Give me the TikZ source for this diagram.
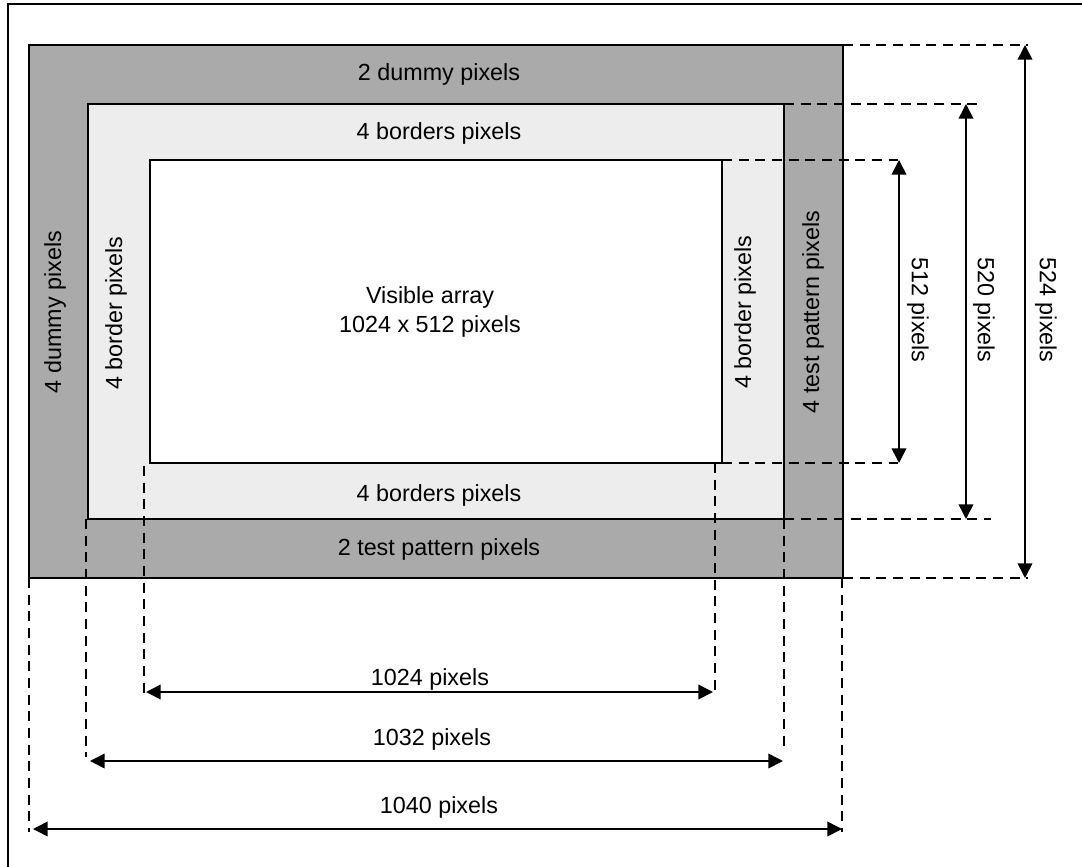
\documentclass[tikz,border=0pt]{standalone}
\usepackage{fontspec}
\setmainfont{Liberation Sans}
\usetikzlibrary{arrows.meta}
\definecolor{darkband}{RGB}{170,170,170}
\definecolor{lightband}{RGB}{237,237,237}
\tikzset{
  band/.style={draw=black, line width=1.2pt},
  guide/.style={draw=black, line width=1.2pt, dash pattern=on 7.5pt off 5pt},
  dimline/.style={draw=black, line width=1.2pt, {Triangle[length=11pt,width=11pt]}-{Triangle[length=11pt,width=11pt]}},
  lbl/.style={inner sep=0pt, font=\fontsize{17.5}{22}\selectfont, align=center},
  vlbl/.style={lbl, rotate=90},
  rlbl/.style={lbl, rotate=-90}
}
\begin{document}
\begin{tikzpicture}[x=0.75pt, y=-0.75pt]
\useasboundingbox (0,0) rectangle (1082,867);

% outer frame (open to the right and bottom)
\draw[line width=1.2pt] (1082,4) -- (8,4) -- (8,867);

% pixel array bands
\coordinate (dTL) at (29,45);  \coordinate (dBR) at (843,578);
\coordinate (lTL) at (88,104); \coordinate (lBR) at (784,519);
\coordinate (wTL) at (150,160);\coordinate (wBR) at (722,463);
\filldraw[band, fill=darkband] (dTL) rectangle (dBR);
\filldraw[band, fill=lightband] (lTL) rectangle (lBR);
\filldraw[band, fill=white] (wTL) rectangle (wBR);

% band labels
\node[lbl] (topdummy) at (439,74) {2 dummy pixels};
\node[lbl] (topborder) at (439,133) {4 borders pixels};
\node[lbl] (visible) at (430,312) {Visible array\\1024 x 512 pixels};
\node[lbl] (botborder) at (439,495) {4 borders pixels};
\node[lbl] (bottest) at (439,549) {2 test pattern pixels};
\node[vlbl] (leftdummy) at (55,312) {4 dummy pixels};
\node[vlbl] (leftborder) at (116,313) {4 border pixels};
\node[vlbl] (rightborder) at (745,312) {4 border pixels};
\node[vlbl] (righttest) at (813,312) {4 test pattern pixels};

% horizontal extension lines
\coordinate (h1a) at (843,45);  \coordinate (h1b) at (1028,45);
\coordinate (h2a) at (784,104); \coordinate (h2b) at (981,104);
\coordinate (h3a) at (722,160); \coordinate (h3b) at (898,160);
\coordinate (h4a) at (722,463); \coordinate (h4b) at (898,463);
\coordinate (h5a) at (784,519); \coordinate (h5b) at (991,519);
\coordinate (h6a) at (843,578); \coordinate (h6b) at (1028,578);
\foreach \i in {1,...,6} \draw[guide] (h\i a) -- (h\i b);

% vertical extension lines
\coordinate (v1a) at (144,466); \coordinate (v1b) at (144,694);
\coordinate (v2a) at (715,463); \coordinate (v2b) at (715,694);
\coordinate (v3a) at (86,519);  \coordinate (v3b) at (86,757);
\coordinate (v4a) at (784,519); \coordinate (v4b) at (784,748);
\coordinate (v5a) at (29,578);  \coordinate (v5b) at (29,832);
\coordinate (v6a) at (842,578); \coordinate (v6b) at (842,832);
\foreach \i in {1,...,6} \draw[guide] (v\i a) -- (v\i b);

% vertical dimensions
\coordinate (d512a) at (899,160); \coordinate (d512b) at (899,463);
\coordinate (d520a) at (966,104); \coordinate (d520b) at (966,519);
\coordinate (d524a) at (1025,45); \coordinate (d524b) at (1025,578);
\draw[dimline] (d512a) -- (d512b);
\draw[dimline] (d520a) -- (d520b);
\draw[dimline] (d524a) -- (d524b);
\node[rlbl] (t512) at (918,310) {512 pixels};
\node[rlbl] (t520) at (984,310) {520 pixels};
\node[rlbl] (t524) at (1046,310) {524 pixels};

% horizontal dimensions
\coordinate (d1024a) at (146,692); \coordinate (d1024b) at (713,692);
\coordinate (d1032a) at (90,761);  \coordinate (d1032b) at (783,761);
\coordinate (d1040a) at (33,829);  \coordinate (d1040b) at (842,829);
\draw[dimline] (d1024a) -- (d1024b);
\draw[dimline] (d1032a) -- (d1032b);
\draw[dimline] (d1040a) -- (d1040b);
\node[lbl] (t1024) at (430,679) {1024 pixels};
\node[lbl] (t1032) at (432,739) {1032 pixels};
\node[lbl] (t1040) at (439,807) {1040 pixels};
\end{tikzpicture}
\end{document}
